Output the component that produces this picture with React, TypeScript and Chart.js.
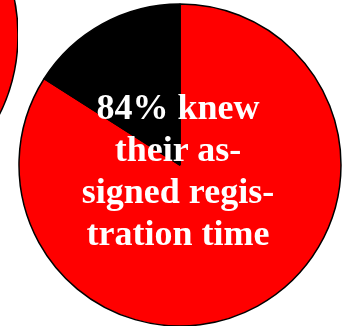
import React, { useEffect, useRef } from "react";
import { Chart, registerables } from "chart.js";

Chart.register(...registerables);

const mainLabels = ["Knew their assigned registration time", "Did not know"];
const mainValues = [84, 16];
const mainColors = ["#ff0000", "#000000"];

const sideLabels = ["Red", "Black"];
const sideValues = [84, 16];
const sideColors = ["#ff0000", "#000000"];

const overlayLines = ["84% knew", "their as-", "signed regis-", "tration time"];

export default function App() {
  const mainRef = useRef<HTMLCanvasElement | null>(null);
  const sideRef = useRef<HTMLCanvasElement | null>(null);

  useEffect(() => {
    const side = new Chart(sideRef.current as HTMLCanvasElement, {
      type: "pie",
      data: {
        labels: sideLabels,
        datasets: [
          {
            data: sideValues,
            backgroundColor: sideColors,
            borderColor: "#000000",
            borderWidth: 1.5,
            clip: false,
          } as any,
        ],
      },
      options: {
        responsive: false,
        animation: false,
        radius: 180,
        layout: { padding: 0 },
        plugins: { legend: { display: false }, tooltip: { enabled: false } },
      } as any,
    });
    const main = new Chart(mainRef.current as HTMLCanvasElement, {
      type: "pie",
      data: {
        labels: mainLabels,
        datasets: [
          {
            data: mainValues,
            backgroundColor: mainColors,
            borderColor: "#000000",
            borderWidth: 1.5,
            clip: false,
          } as any,
        ],
      },
      options: {
        responsive: false,
        animation: false,
        radius: 161,
        layout: { padding: { left: 10, top: 4, right: 0, bottom: 0 } },
        plugins: { legend: { display: false }, tooltip: { enabled: false } },
      } as any,
    });
    return () => {
      main.destroy();
      side.destroy();
    };
  }, []);

  return (
    <div
      style={{
        position: "fixed",
        left: 0,
        top: 0,
        width: 350,
        height: 326,
        overflow: "hidden",
        background: "#ffffff",
      }}
    >
      <canvas
        ref={sideRef}
        width={360}
        height={360}
        style={{ position: "absolute", left: -342.5, top: -145, width: 360, height: 360 }}
      />
      <canvas
        ref={mainRef}
        width={350}
        height={326}
        style={{ position: "absolute", left: 0, top: 0, width: 350, height: 326 }}
      />
      <div
        style={{
          position: "absolute",
          left: 28,
          top: 86,
          width: 300,
          textAlign: "center",
          color: "#ffffff",
          fontFamily: "'Liberation Serif', 'DejaVu Serif', serif",
          fontWeight: "bold",
          fontSize: 36,
          lineHeight: "42px",
          whiteSpace: "nowrap",
        }}
      >
        {overlayLines.map((l, i) => (
          <div key={i}>{l}</div>
        ))}
      </div>
    </div>
  );
}
